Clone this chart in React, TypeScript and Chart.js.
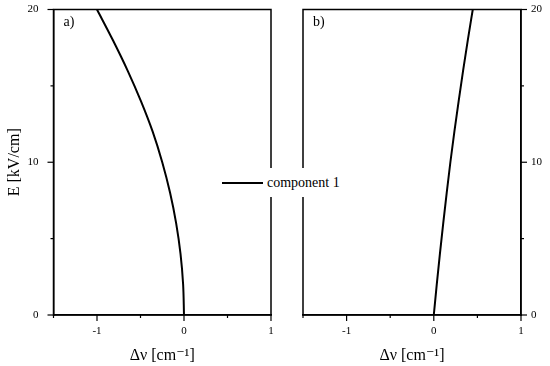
import React, { useEffect, useRef } from "react";
import { Chart, registerables } from "chart.js";

Chart.register(...registerables);

// Field strength E [kV/cm]
const fieldA = [0, 2, 4, 6, 8, 10, 12, 14, 16, 18, 20];
// Shift Δν [cm^-1], panel a)
const shiftA = [0, -0.01, -0.04, -0.09, -0.16, -0.25, -0.36, -0.495, -0.648, -0.818, -1.0];
// Field strength E [kV/cm], panel b)
const fieldB = [0, 2, 4, 6, 8, 10, 12, 14, 16, 18, 20];
// Shift Δν [cm^-1], panel b)
const shiftB = [0, 0.034, 0.07, 0.108, 0.148, 0.19, 0.236, 0.285, 0.336, 0.39, 0.447];

const xMin = -1.5;
const xMax = 1;
const yMin = 0;
const yMax = 20;
const legendLabel = "component 1";
const xTitle = "Δν [cm⁻¹]";
const yTitle = "E [kV/cm]";

const FONT = "'Liberation Serif', 'DejaVu Serif', serif";

const framePlugin = (label: string, lx: number) => ({
  id: "frame",
  afterDraw(chart: any) {
    const { ctx, chartArea: a } = chart;
    ctx.save();
    ctx.strokeStyle = "#000";
    ctx.lineWidth = 1.5;
    ctx.strokeRect(a.left, a.top, a.right - a.left, a.bottom - a.top);
    const xs = chart.scales.x;
    ctx.lineWidth = 1.2;
    xs.ticks.forEach((t: any) => {
      const px = xs.getPixelForValue(t.value);
      const len = Number.isInteger(t.value) ? 6 : 3;
      ctx.beginPath();
      ctx.moveTo(px, a.bottom);
      ctx.lineTo(px, a.bottom + len);
      ctx.stroke();
    });
    const ys = chart.scales.y;
    const right = ys.position === "right";
    ys.ticks.forEach((t: any) => {
      const py = ys.getPixelForValue(t.value);
      const len = t.value % 10 === 0 ? 6 : 3;
      const x0 = right ? a.right : a.left;
      ctx.beginPath();
      ctx.moveTo(x0, py);
      ctx.lineTo(right ? x0 + len : x0 - len, py);
      ctx.stroke();
    });
    ctx.fillStyle = "#000";
    ctx.font = `14px ${FONT}`;
    ctx.textBaseline = "middle";
    ctx.textAlign = "left";
    ctx.fillText(label, a.left + lx, a.top + 13);
    ctx.restore();
  },
});

function makeConfig(fields: number[], shifts: number[], side: "left" | "right", label: string) {
  const points = fields.map((e, i) => ({ x: shifts[i], y: e }));
  return {
    type: "line" as const,
    data: {
      datasets: [
        {
          label: legendLabel,
          data: points,
          borderColor: "#000",
          borderWidth: 2,
          pointRadius: 0,
          cubicInterpolationMode: "monotone",
          fill: false,
        },
      ],
    },
    options: {
      animation: false,
      responsive: false,
      maintainAspectRatio: false,
      indexAxis: "y",
      layout: {
        padding: side === "left" ? { top: 9.5, right: 9, left: 0, bottom: 0 } : { top: 9.5, right: 0, left: 23, bottom: 0 },
      },
      plugins: { legend: { display: false }, tooltip: { enabled: false } },
      scales: {
        x: {
          type: "linear",
          min: xMin,
          max: xMax,
          afterFit: (s: any) => {
            s.height = 51;
            s.paddingLeft = 0;
            s.paddingRight = 0;
          },
          ticks: {
            stepSize: 0.5,
            autoSkip: false,
            maxRotation: 0,
            padding: 5,
            color: "#000",
            font: { family: FONT, size: 11 },
            callback: (v: any) => (Number.isInteger(v) ? String(v) : ""),
          },
          grid: { drawOnChartArea: false, drawTicks: true, tickLength: 5, tickColor: "transparent" },
          border: { color: "#000", width: 1.5 },
          title: {
            display: true,
            text: xTitle,
            color: "#000",
            font: { family: FONT, size: 16 },
            padding: { top: 0, bottom: 1 },
          },
        },
        y: {
          type: "linear",
          position: side,
          min: yMin,
          max: yMax,
          afterFit: (s: any) => {
            s.width = side === "left" ? 53.5 : 29;
            s.paddingTop = 0;
            s.paddingBottom = 0;
          },
          ticks: {
            stepSize: 5,
            autoSkip: false,
            padding: side === "left" ? 10 : 5,
            color: "#000",
            font: { family: FONT, size: 11 },
            callback: (v: any) => (v % 10 === 0 ? String(v) : ""),
          },
          grid: { drawOnChartArea: false, drawTicks: true, tickLength: 5, tickColor: "transparent" },
          border: { color: "#000", width: 1.5 },
          title: {
            display: side === "left",
            text: yTitle,
            color: "#000",
            font: { family: FONT, size: 16 },
            padding: { top: 5, bottom: 0 },
          },
        },
      },
    },
    plugins: [framePlugin(label, 10)],
  };
}

export default function App() {
  const leftRef = useRef<HTMLCanvasElement>(null);
  const rightRef = useRef<HTMLCanvasElement>(null);

  useEffect(() => {
    const c1 = new Chart(leftRef.current as HTMLCanvasElement, makeConfig(fieldA, shiftA, "left", "a)") as any);
    const c2 = new Chart(rightRef.current as HTMLCanvasElement, makeConfig(fieldB, shiftB, "right", "b)") as any);
    return () => {
      c1.destroy();
      c2.destroy();
    };
  }, []);

  return (
    <div style={{ position: "fixed", left: 0, top: 0, width: 550, height: 366, background: "#fff", overflow: "hidden" }}>
      <canvas ref={leftRef} width={280} height={366} style={{ position: "absolute", left: 0, top: 0, width: 280, height: 366 }} />
      <canvas ref={rightRef} width={270} height={366} style={{ position: "absolute", left: 280, top: 0, width: 270, height: 366 }} />
      <div
        style={{
          position: "absolute",
          left: 217,
          top: 168,
          width: 126,
          height: 29,
          background: "#fff",
          display: "flex",
          alignItems: "center",
          fontFamily: FONT,
          fontSize: 14,
          color: "#000",
          whiteSpace: "nowrap",
        }}
      >
        <span style={{ display: "inline-block", width: 41, height: 0, borderTop: "2px solid #000", marginLeft: 5, marginRight: 4 }} />
        <span>{legendLabel}</span>
      </div>
    </div>
  );
}
